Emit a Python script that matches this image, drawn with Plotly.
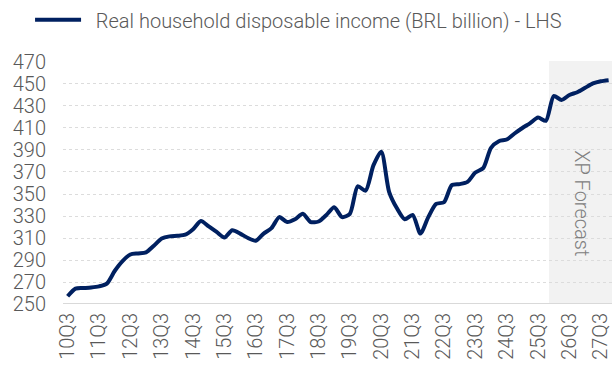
import plotly.graph_objects as go

# Quarterly labels, 2010Q3 .. 2027Q4
quarters = [
    "10Q3", "10Q4",
    "11Q1", "11Q2", "11Q3", "11Q4",
    "12Q1", "12Q2", "12Q3", "12Q4",
    "13Q1", "13Q2", "13Q3", "13Q4",
    "14Q1", "14Q2", "14Q3", "14Q4",
    "15Q1", "15Q2", "15Q3", "15Q4",
    "16Q1", "16Q2", "16Q3", "16Q4",
    "17Q1", "17Q2", "17Q3", "17Q4",
    "18Q1", "18Q2", "18Q3", "18Q4",
    "19Q1", "19Q2", "19Q3", "19Q4",
    "20Q1", "20Q2", "20Q3", "20Q4",
    "21Q1", "21Q2", "21Q3", "21Q4",
    "22Q1", "22Q2", "22Q3", "22Q4",
    "23Q1", "23Q2", "23Q3", "23Q4",
    "24Q1", "24Q2", "24Q3", "24Q4",
    "25Q1", "25Q2", "25Q3", "25Q4",
    "26Q1", "26Q2", "26Q3", "26Q4",
    "27Q1", "27Q2", "27Q3", "27Q4",
]

# Real household disposable income, BRL billion
income = [
    257.0, 264.0,
    264.5, 265.0, 266.0, 268.5,
    280.0, 289.0, 295.0, 296.0,
    297.0, 303.0, 309.5, 311.5,
    312.0, 313.0, 318.0, 325.5,
    320.5, 315.5, 310.5, 317.0,
    314.0, 310.0, 307.5, 314.0,
    319.0, 329.0, 324.5, 327.0,
    332.0, 324.5, 325.0, 331.0,
    338.0, 329.0, 332.0, 357.0,
    353.0, 376.0, 388.5, 352.0,
    337.0, 327.0, 331.0, 314.0,
    329.0, 341.0, 342.5, 358.0,
    359.0, 361.0, 369.5, 373.5,
    392.0, 398.0, 399.5, 405.0,
    410.0, 414.5, 419.5, 416.5,
    439.0, 435.5, 440.0, 442.5,
    446.5, 450.5, 452.5, 453.5,
]

forecast_start = "25Q4"
y_ticks = list(range(250, 471, 20))
series_name = "Real household disposable income (BRL billion) - LHS"

idx = list(range(len(quarters)))
fc_idx = quarters.index(forecast_start)
last = len(quarters) - 1

NAVY = "#002060"
GREY_TXT = "#595959"
FONT = "Roboto"

fig = go.Figure()
fig.add_trace(go.Scatter(
    x=idx, y=income, mode="lines",
    name="\u00a0\u00a0" + series_name,
    line=dict(color=NAVY, width=4, shape="spline", smoothing=0.7),
    showlegend=True,
))

# Shaded forecast period
fig.add_shape(
    type="rect", xref="x", yref="paper",
    x0=fc_idx + 0.4, x1=last + 5, y0=0, y1=1,
    fillcolor="#f2f2f2", line=dict(width=0), layer="below",
)
fig.add_annotation(
    x=65.6, y=0.415, xref="x", yref="paper",
    text="XP Forecast", textangle=90, showarrow=False,
    font=dict(family=FONT, size=20, color="#808080", weight=300),
)

fig.update_layout(
    width=612, height=369,
    margin=dict(l=63, r=0, t=61, b=65, autoexpand=False),
    paper_bgcolor="white", plot_bgcolor="rgba(0,0,0,0)",
    font=dict(family=FONT, size=20, color=GREY_TXT, weight=300),
    legend=dict(
        orientation="h", x=-0.06, y=1.17, xanchor="left", yanchor="middle",
        font=dict(family=FONT, size=20, color=GREY_TXT, weight=300),
        itemwidth=46, bgcolor="rgba(0,0,0,0)",
    ),
    xaxis=dict(
        range=[-0.59, last + 0.43],
        tickmode="array", tickvals=idx[::4], ticktext=quarters[::4],
        tickangle=-90, showgrid=False, zeroline=False,
        showline=False, ticks="", tickfont=dict(size=20, color=GREY_TXT),
        ticklabelstandoff=4, ticklabeloverflow="allow",
    ),
    yaxis=dict(
        range=[250, 470.9], tickmode="array", tickvals=y_ticks,
        showgrid=True, gridcolor="#dcdcdc", griddash="dot", gridwidth=1,
        zeroline=False, showline=False, ticks="",
        tickfont=dict(size=20, color=GREY_TXT),
        ticklabelstandoff=16, ticklabeloverflow="allow",
    ),
)

# Baseline at 250
fig.add_shape(
    type="line", xref="paper", yref="y", x0=0, x1=1, y0=250, y1=250,
    line=dict(color="#d9d9d9", width=2), layer="above",
)

fig.write_html("out.html")
